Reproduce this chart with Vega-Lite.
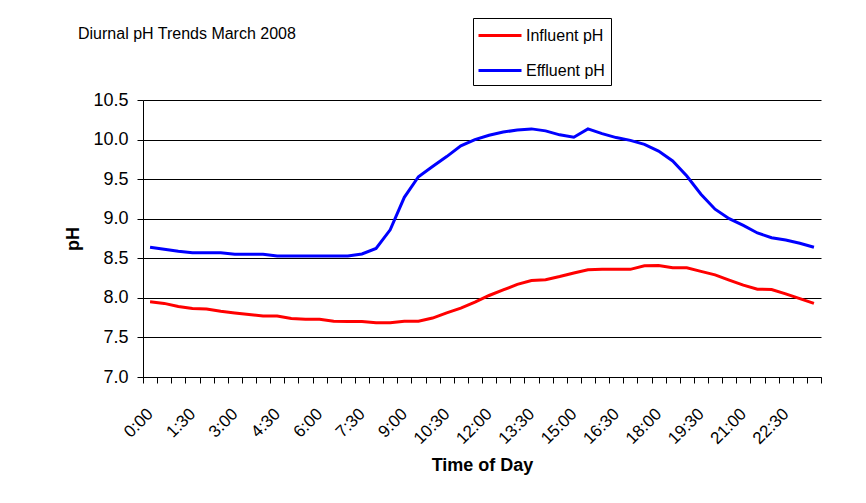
{
  "$schema": "https://vega.github.io/schema/vega-lite/v6.json",
  "width": 678,
  "height": 277,
  "autosize": "none",
  "padding": {"left": 143, "top": 100, "right": 45, "bottom": 126},
  "background": "white",
  "title": {
    "text": "Diurnal pH Trends March 2008",
    "orient": "top",
    "anchor": "start",
    "frame": "group",
    "dx": -65,
    "dy": 24,
    "offset": 0,
    "fontSize": 16,
    "fontWeight": "normal",
    "color": "black"
  },
  "data": {
    "values": [
      {"hour": 0, "Influent pH": 7.95, "Effluent pH": 8.64},
      {"hour": 0.5, "Influent pH": 7.93, "Effluent pH": 8.615},
      {"hour": 1, "Influent pH": 7.89, "Effluent pH": 8.59},
      {"hour": 1.5, "Influent pH": 7.865, "Effluent pH": 8.57},
      {"hour": 2, "Influent pH": 7.86, "Effluent pH": 8.57},
      {"hour": 2.5, "Influent pH": 7.83, "Effluent pH": 8.57},
      {"hour": 3, "Influent pH": 7.81, "Effluent pH": 8.55},
      {"hour": 3.5, "Influent pH": 7.79, "Effluent pH": 8.55},
      {"hour": 4, "Influent pH": 7.77, "Effluent pH": 8.55},
      {"hour": 4.5, "Influent pH": 7.77, "Effluent pH": 8.53},
      {"hour": 5, "Influent pH": 7.74, "Effluent pH": 8.53},
      {"hour": 5.5, "Influent pH": 7.73, "Effluent pH": 8.53},
      {"hour": 6, "Influent pH": 7.73, "Effluent pH": 8.53},
      {"hour": 6.5, "Influent pH": 7.705, "Effluent pH": 8.53},
      {"hour": 7, "Influent pH": 7.7, "Effluent pH": 8.53},
      {"hour": 7.5, "Influent pH": 7.7, "Effluent pH": 8.555},
      {"hour": 8, "Influent pH": 7.685, "Effluent pH": 8.625},
      {"hour": 8.5, "Influent pH": 7.685, "Effluent pH": 8.86},
      {"hour": 9, "Influent pH": 7.705, "Effluent pH": 9.27},
      {"hour": 9.5, "Influent pH": 7.705, "Effluent pH": 9.53},
      {"hour": 10, "Influent pH": 7.745, "Effluent pH": 9.66},
      {"hour": 10.5, "Influent pH": 7.81, "Effluent pH": 9.785},
      {"hour": 11, "Influent pH": 7.87, "Effluent pH": 9.92},
      {"hour": 11.5, "Influent pH": 7.945, "Effluent pH": 10.0},
      {"hour": 12, "Influent pH": 8.03, "Effluent pH": 10.055},
      {"hour": 12.5, "Influent pH": 8.1, "Effluent pH": 10.095},
      {"hour": 13, "Influent pH": 8.17, "Effluent pH": 10.12},
      {"hour": 13.5, "Influent pH": 8.22, "Effluent pH": 10.135},
      {"hour": 14, "Influent pH": 8.23, "Effluent pH": 10.11},
      {"hour": 14.5, "Influent pH": 8.27, "Effluent pH": 10.06},
      {"hour": 15, "Influent pH": 8.315, "Effluent pH": 10.03},
      {"hour": 15.5, "Influent pH": 8.355, "Effluent pH": 10.135},
      {"hour": 16, "Influent pH": 8.36, "Effluent pH": 10.075},
      {"hour": 16.5, "Influent pH": 8.36, "Effluent pH": 10.025},
      {"hour": 17, "Influent pH": 8.36, "Effluent pH": 9.99},
      {"hour": 17.5, "Influent pH": 8.405, "Effluent pH": 9.94},
      {"hour": 18, "Influent pH": 8.41, "Effluent pH": 9.855},
      {"hour": 18.5, "Influent pH": 8.38, "Effluent pH": 9.73},
      {"hour": 19, "Influent pH": 8.38, "Effluent pH": 9.54},
      {"hour": 19.5, "Influent pH": 8.335, "Effluent pH": 9.31},
      {"hour": 20, "Influent pH": 8.29, "Effluent pH": 9.12},
      {"hour": 20.5, "Influent pH": 8.225, "Effluent pH": 9.0},
      {"hour": 21, "Influent pH": 8.16, "Effluent pH": 8.915},
      {"hour": 21.5, "Influent pH": 8.11, "Effluent pH": 8.82},
      {"hour": 22, "Influent pH": 8.105, "Effluent pH": 8.76},
      {"hour": 22.5, "Influent pH": 8.05, "Effluent pH": 8.73},
      {"hour": 23, "Influent pH": 7.99, "Effluent pH": 8.69},
      {"hour": 23.5, "Influent pH": 7.93, "Effluent pH": 8.64}
    ]
  },
  "transform": [{"fold": ["Influent pH", "Effluent pH"], "as": ["series", "pH"]}],
  "mark": {"type": "line", "strokeWidth": 3},
  "encoding": {
    "x": {
      "field": "hour",
      "type": "quantitative",
      "scale": {"domain": [-0.25, 23.75], "nice": false, "zero": false},
      "axis": {
        "title": "Time of Day",
        "values": [-0.25, 0.25, 0.75, 1.25, 1.75, 2.25, 2.75, 3.25, 3.75, 4.25, 4.75, 5.25, 5.75, 6.25, 6.75, 7.25, 7.75, 8.25, 8.75, 9.25, 9.75, 10.25, 10.75, 11.25, 11.75, 12.25, 12.75, 13.25, 13.75, 14.25, 14.75, 15.25, 15.75, 16.25, 16.75, 17.25, 17.75, 18.25, 18.75, 19.25, 19.75, 20.25, 20.75, 21.25, 21.75, 22.25, 22.75, 23.25, 23.75],
        "labelExpr": "((datum.value + 0.25) % 1.5 == 0 && datum.value < 23.5) ? floor(datum.value + 0.25) + ':' + ((datum.value + 0.25) % 1 == 0 ? '00' : '30') : ''",
        "labelAngle": -45,
        "labelAlign": "right",
        "labelBaseline": "middle",
        "labelOffset": 7,
        "labelPadding": 28,
        "labelFontSize": 17,
        "labelOverlap": false,
        "labelFlush": false,
        "labelBound": false,
        "tickSize": 6,
        "grid": false,
        "titleFontSize": 18,
        "titleFontWeight": "bold",
        "titlePadding": 10
      }
    },
    "y": {
      "field": "pH",
      "type": "quantitative",
      "scale": {"domain": [7, 10.5], "nice": false, "zero": false},
      "axis": {
        "title": "pH",
        "values": [7, 7.5, 8, 8.5, 9, 9.5, 10, 10.5],
        "format": ".1f",
        "labelFontSize": 18,
        "labelPadding": 9,
        "tickSize": 6,
        "grid": true,
        "gridColor": "black",
        "gridOpacity": 1,
        "titleFontSize": 18,
        "titleFontWeight": "bold",
        "titlePadding": 10
      }
    },
    "color": {
      "field": "series",
      "type": "nominal",
      "scale": {"domain": ["Influent pH", "Effluent pH"], "range": ["#FF0000", "#0000FF"]},
      "legend": {
        "title": null,
        "orient": "none",
        "legendX": 330,
        "legendY": -82,
        "strokeColor": "black",
        "fillColor": "white",
        "padding": 6,
        "symbolType": "M-3.3,0H1",
        "symbolSize": 400,
        "symbolStrokeWidth": 3,
        "symbolOffset": 21,
        "labelOffset": 3,
        "rowPadding": 15,
        "labelFontSize": 16,
        "labelColor": "black"
      }
    }
  },
  "config": {
    "view": {"stroke": null},
    "font": "Liberation Sans",
    "axis": {
      "domainColor": "black",
      "tickColor": "black",
      "labelColor": "black",
      "titleColor": "black"
    }
  }
}
